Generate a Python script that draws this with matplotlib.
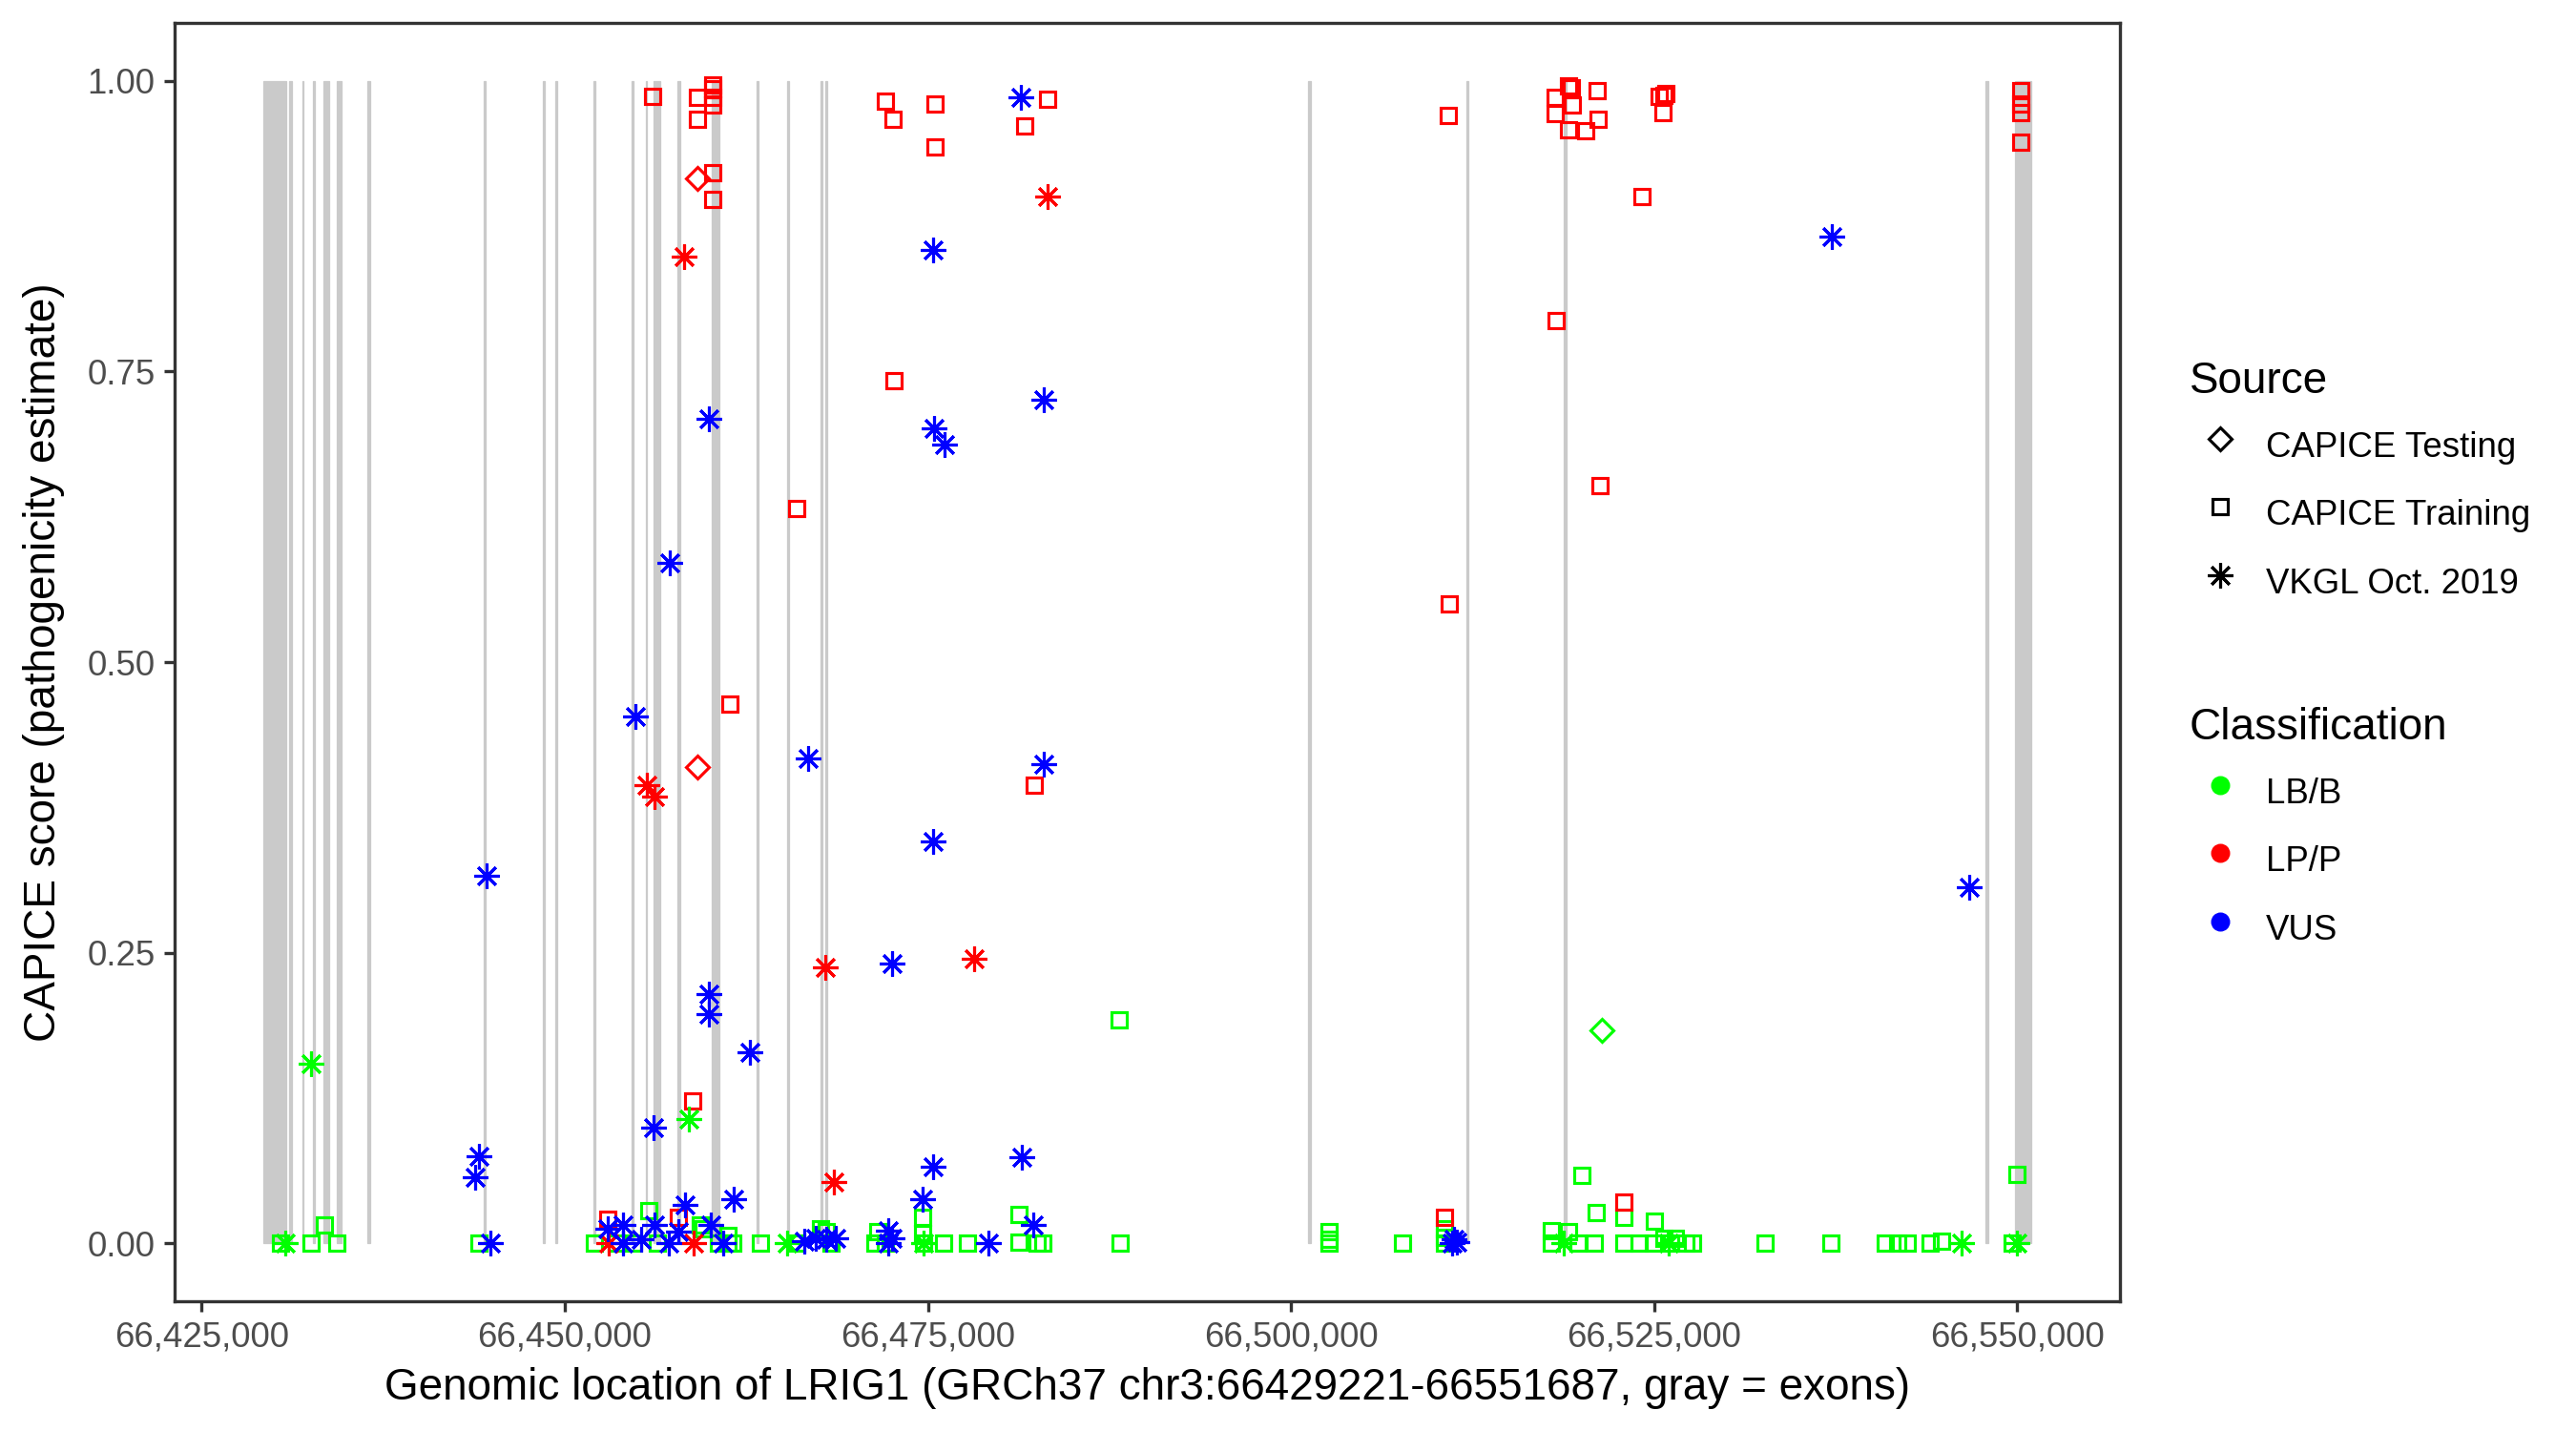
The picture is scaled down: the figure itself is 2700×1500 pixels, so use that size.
import matplotlib
matplotlib.use("Agg")
import matplotlib.pyplot as plt
from matplotlib.lines import Line2D
from matplotlib.ticker import FuncFormatter, FixedLocator

plt.rcParams['font.family'] = ['Liberation Sans', 'DejaVu Sans']

# ---------------- data ----------------
exon_start = [66429221, 66431002, 66431915, 66432633, 66433351, 66434329, 66436417,
              66444442, 66448486, 66449335, 66451944, 66454619, 66455598, 66456119,
              66457750, 66460099, 66463231, 66465318, 66467602, 66467928, 66501200,
              66512095, 66518750, 66547782, 66549870, 66550849]
exon_end = [66430806, 66431198, 66431981, 66432764, 66433742, 66434655, 66436613,
            66444572, 66448617, 66449465, 66452075, 66454749, 66455663, 66456576,
            66457946, 66460621, 66463361, 66465449, 66467732, 66468058, 66501396,
            66512225, 66518946, 66547977, 66550783, 66550979]

# CAPICE Training, LP/P
train_lpp_x = [66456054, 66459121, 66459121, 66460164, 66460164, 66460164, 66460164,
               66460164, 66460164, 66472071, 66472625, 66475496, 66475496, 66481628,
               66483259, 66510856, 66519076, 66519300, 66518163, 66518163, 66519337,
               66521099, 66521164, 66519076, 66520250, 66525339, 66525665, 66525828,
               66525600, 66524165, 66550228, 66550228, 66550228, 66550228, 66472630,
               66465986, 66461370, 66482313, 66458794, 66452923, 66457816, 66510914,
               66510530, 66518233, 66521273, 66522925]
train_lpp_y = [0.987, 0.986, 0.967, 0.997, 0.993, 0.986, 0.979,
               0.921, 0.898, 0.983, 0.967, 0.980, 0.943, 0.961,
               0.984, 0.970, 0.996, 0.994, 0.986, 0.972, 0.979,
               0.992, 0.967, 0.958, 0.957, 0.987, 0.988, 0.989,
               0.973, 0.901, 0.992, 0.980, 0.973, 0.947, 0.742,
               0.632, 0.464, 0.394, 0.122, 0.021, 0.022, 0.550,
               0.022, 0.794, 0.652, 0.035]

# CAPICE Training, LB/B
train_lbb_x = [66488169, 66520022, 66549999, 66430415, 66432503, 66433416, 66434329,
               66444083, 66452009, 66453575, 66455793, 66454749, 66456380, 66459316,
               66459512, 66460556, 66461208, 66461208, 66461534, 66463492, 66465971,
               66467602, 66467993, 66468319, 66471516, 66471320, 66472038, 66474648,
               66474648, 66474713, 66476083, 66477714, 66481236, 66481236, 66482541,
               66482933, 66488218, 66502602, 66502602, 66502602, 66507659, 66510530,
               66510530, 66510530, 66517902, 66517902, 66519076, 66519728, 66520902,
               66521000, 66522925, 66522925, 66523969, 66524948, 66525013, 66525665,
               66526122, 66526448, 66527166, 66527622, 66532646, 66537148, 66540931,
               66541780, 66542432, 66543998, 66544781, 66549674]
train_lbb_y = [0.192, 0.058, 0.059, 0.0, 0.0, 0.016, 0.0,
               0.0, 0.0, 0.0, 0.028, 0.0, 0.0, 0.016,
               0.012, 0.0, 0.007, 0.0, 0.0, 0.0, 0.0,
               0.012, 0.010, 0.0, 0.010, 0.0, 0.0, 0.022,
               0.008, 0.0, 0.0, 0.0, 0.025, 0.001, 0.0,
               0.0, 0.0, 0.010, 0.003, 0.0, 0.0, 0.012,
               0.005, 0.0, 0.011, 0.0, 0.010, 0.0, 0.0,
               0.026, 0.022, 0.0, 0.0, 0.0, 0.019, 0.004,
               0.0, 0.004, 0.0, 0.0, 0.0, 0.0, 0.0,
               0.0, 0.0, 0.0, 0.002, 0.0]

# CAPICE Testing
test_lpp_x = [66459121, 66459118]
test_lpp_y = [0.916, 0.410]
test_lbb_x = [66521386]
test_lbb_y = [0.183]

# VKGL Oct. 2019
vkgl_lpp_x = [66458217, 66455627, 66456190, 66483259, 66478147, 66467901, 66468500,
              66452988, 66458860]
vkgl_lpp_y = [0.849, 0.394, 0.384, 0.901, 0.245, 0.237, 0.053, 0.0, 0.0]

vkgl_lbb_x = [66432503, 66430774, 66458533, 66465318, 66474713, 66518750, 66525992,
              66546151, 66549999]
vkgl_lbb_y = [0.154, 0.0, 0.107, 0.0, 0.0, 0.0, 0.0, 0.0, 0.0]

vkgl_vus_x = [66481367, 66537262, 66475332, 66482989, 66459906, 66475445, 66476120,
              66457204, 66454839, 66466775, 66482989, 66475332, 66444592, 66546721,
              66472517, 66459906, 66459906, 66462774, 66444115, 66443822, 66444898,
              66456119, 66452923, 66454032, 66454032, 66455271, 66456184, 66458272,
              66457816, 66457163, 66460034, 66460882, 66461600, 66466493, 66467276,
              66467993, 66468646, 66472299, 66472299, 66472500, 66474648, 66475365,
              66479149, 66481433, 66482281, 66511100, 66511250, 66511400]
vkgl_vus_y = [0.986, 0.866, 0.855, 0.726, 0.709, 0.701, 0.687,
              0.585, 0.453, 0.417, 0.412, 0.346, 0.316, 0.306,
              0.241, 0.214, 0.197, 0.164, 0.075, 0.057, 0.0,
              0.099, 0.012, 0.016, 0.0, 0.003, 0.016, 0.033,
              0.010, 0.0, 0.016, 0.0, 0.038, 0.002, 0.004,
              0.003, 0.004, 0.011, 0.0, 0.004, 0.038, 0.066,
              0.0, 0.074, 0.016, 0.0, 0.003, 0.001]

x_ticks = [66425000, 66450000, 66475000, 66500000, 66525000, 66550000]
y_ticks = [0.0, 0.25, 0.5, 0.75, 1.0]

source_labels = ["CAPICE Testing", "CAPICE Training", "VKGL Oct. 2019"]
class_labels = ["LB/B", "LP/P", "VUS"]
class_colors = {"LB/B": "#00FF00", "LP/P": "#FF0000", "VUS": "#0000FF"}

# ---------------- figure ----------------
fig = plt.figure(figsize=(9, 5), dpi=300)
ax = fig.add_axes([183 / 2700, 1 - 1364 / 1500, (2222 - 183) / 2700, (1364 - 24) / 1500])

widths = [e - s for s, e in zip(exon_start, exon_end)]
ax.bar(exon_start, [1.0] * len(exon_start), width=widths, bottom=0, align='edge',
       color='#CACACA', edgecolor='#CACACA', linewidth=0.3, zorder=1)

ms_sq = 4.0
ms_ast = 6.3
mew = 0.75
ast = (8, 2, 0)


def pts(x, y, marker, color, ms):
    ax.plot(x, y, linestyle='none', marker=marker, markersize=ms,
            markerfacecolor='none', markeredgecolor=color, markeredgewidth=mew,
            zorder=3)


pts(train_lbb_x, train_lbb_y, 's', class_colors["LB/B"], ms_sq)
pts(train_lpp_x, train_lpp_y, 's', class_colors["LP/P"], ms_sq)
pts(test_lpp_x, test_lpp_y, 'D', class_colors["LP/P"], ms_sq)
pts(test_lbb_x, test_lbb_y, 'D', class_colors["LB/B"], ms_sq)
pts(vkgl_lbb_x, vkgl_lbb_y, ast, class_colors["LB/B"], ms_ast)
pts(vkgl_lpp_x, vkgl_lpp_y, ast, class_colors["LP/P"], ms_ast)
pts(vkgl_vus_x, vkgl_vus_y, ast, class_colors["VUS"], ms_ast)

lo = min(exon_start)
hi = max(exon_end)
pad = 0.05 * (hi - lo)
ax.set_xlim(lo - pad, hi + pad)
ax.set_ylim(-0.05, 1.05)

ax.xaxis.set_major_locator(FixedLocator(x_ticks))
ax.xaxis.set_major_formatter(FuncFormatter(lambda v, p: f"{int(round(v)):,}"))
ax.yaxis.set_major_locator(FixedLocator(y_ticks))
ax.yaxis.set_major_formatter(FuncFormatter(lambda v, p: f"{v:.2f}"))

for sp in ax.spines.values():
    sp.set_color('#333333')
    sp.set_linewidth(0.8)
ax.tick_params(axis='both', length=2.75, width=0.8, color='#333333',
               labelsize=8.8, labelcolor='#4D4D4D', pad=2.2)

ax.set_xlabel("Genomic location of LRIG1 (GRCh37 chr3:66429221-66551687, gray = exons)",
              fontsize=11, color='black', labelpad=3.2)
ax.set_ylabel("CAPICE score (pathogenicity estimate)", fontsize=11, color='black',
              labelpad=5.5)

# ---------------- legends ----------------
src_handles = [
    Line2D([], [], linestyle='none', marker='D', markersize=ms_sq, markerfacecolor='none',
           markeredgecolor='black', markeredgewidth=mew),
    Line2D([], [], linestyle='none', marker='s', markersize=ms_sq, markerfacecolor='none',
           markeredgecolor='black', markeredgewidth=mew),
    Line2D([], [], linestyle='none', marker=ast, markersize=ms_ast, markerfacecolor='none',
           markeredgecolor='black', markeredgewidth=mew),
]
cls_handles = [Line2D([], [], linestyle='none', marker='o', markersize=4.3,
                      markerfacecolor=class_colors[c], markeredgecolor=class_colors[c],
                      markeredgewidth=0.5) for c in class_labels]

common = dict(frameon=False, fontsize=8.8, title_fontsize=11, handlelength=1.77,
              handleheight=1.86, labelspacing=0.5, handletextpad=0.4, borderpad=0,
              borderaxespad=0, alignment='left', loc='upper left')

leg1 = fig.legend(src_handles, source_labels, title="Source",
                  bbox_to_anchor=(2295 / 2700, 1 - 378 / 1500), **common)
leg2 = fig.legend(cls_handles, class_labels, title="Classification",
                  bbox_to_anchor=(2295 / 2700, 1 - 741 / 1500), **common)

fig.savefig("out.png", dpi=300)
